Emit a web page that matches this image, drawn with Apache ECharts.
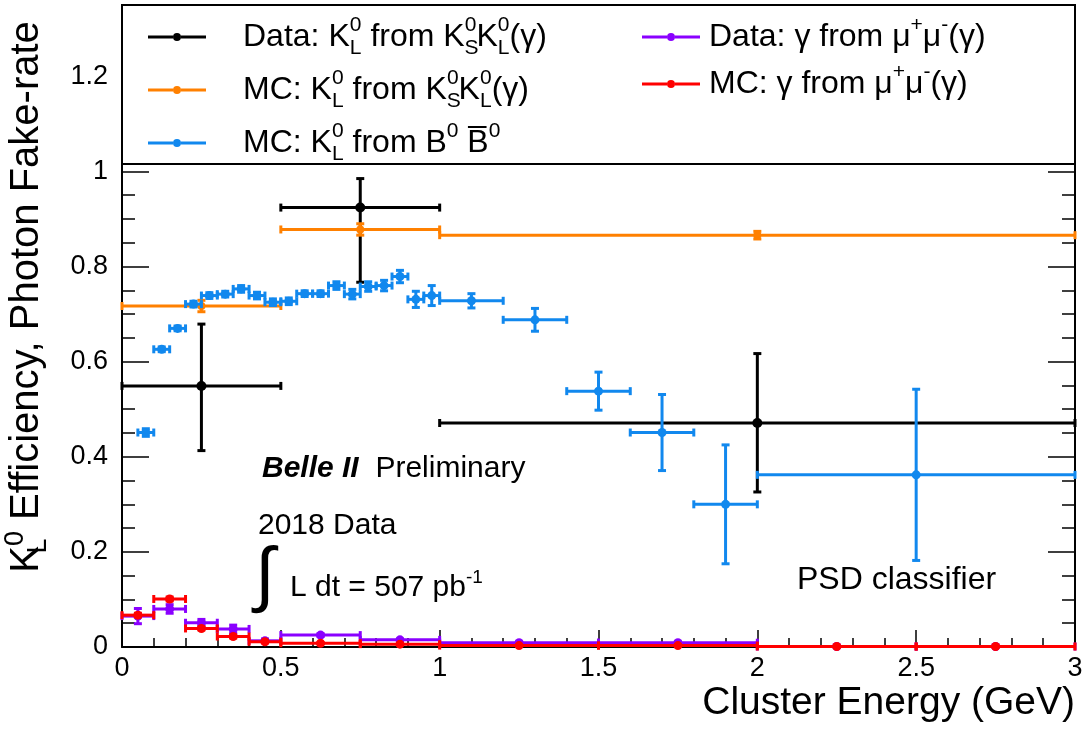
<!DOCTYPE html>
<html><head><meta charset="utf-8">
<script src="https://cdn.jsdelivr.net/npm/echarts@6/dist/echarts.min.js"></script>
<style>html,body{margin:0;padding:0;background:#fff}#c{width:1084px;height:734px}</style>
</head><body><div id="c"></div>
<script>
// ---------- data ----------
// Data: K_L^0 from K_S^0 K_L^0 (gamma)
const dKL_x    = [0.25, 0.75, 2.0];
const dKL_xerr = [0.25, 0.25, 1.0];
const dKL_y    = [0.549, 0.924, 0.471];
const dKL_elo  = [0.136, 0.157, 0.145];
const dKL_ehi  = [0.130, 0.061, 0.146];

// MC: K_L^0 from K_S^0 K_L^0 (gamma)
const mKL_x    = [0.25, 0.75, 2.0];
const mKL_xerr = [0.25, 0.25, 1.0];
const mKL_y    = [0.717, 0.878, 0.866];
const mKL_err  = [0.012, 0.012, 0.008];

// MC: K_L^0 from B0 B0bar
const mB_x    = [0.075, 0.125, 0.175, 0.225, 0.275, 0.325, 0.375, 0.425, 0.475, 0.525,
                 0.575, 0.625, 0.675, 0.725, 0.775, 0.825, 0.875, 0.925, 0.975,
                 1.1, 1.3, 1.5, 1.7, 1.9, 2.5];
const mB_xerr = [0.025, 0.025, 0.025, 0.025, 0.025, 0.025, 0.025, 0.025, 0.025, 0.025,
                 0.025, 0.025, 0.025, 0.025, 0.025, 0.025, 0.025, 0.025, 0.025,
                 0.1, 0.1, 0.1, 0.1, 0.1, 0.5];
const mB_y    = [0.451, 0.626, 0.670, 0.721, 0.739, 0.742, 0.753, 0.739, 0.725, 0.727,
                 0.743, 0.743, 0.760, 0.742, 0.758, 0.760, 0.779, 0.731, 0.739,
                 0.728, 0.688, 0.538, 0.451, 0.300, 0.362];
const mB_err  = [0.008, 0.005, 0.005, 0.006, 0.006, 0.006, 0.007, 0.007, 0.007, 0.007,
                 0.006, 0.006, 0.008, 0.010, 0.010, 0.011, 0.013, 0.017, 0.021,
                 0.015, 0.024, 0.040, 0.080, 0.125, 0.180];

// Data: gamma from mu+ mu- (gamma)
const dG_x    = [0.05, 0.15, 0.25, 0.35, 0.45, 0.625, 0.875, 1.25, 1.75, 2.25, 2.75];
const dG_xerr = [0.05, 0.05, 0.05, 0.05, 0.05, 0.125, 0.125, 0.25, 0.25, 0.25, 0.25];
const dG_y    = [0.065, 0.080, 0.051, 0.038, 0.013, 0.025, 0.015, 0.009, 0.009, 0.001, 0.001];
const dG_err  = [0.016, 0.009, 0.007, 0.008, 0.004, 0.003, 0.002, 0.002, 0.002, 0.001, 0.001];

// MC: gamma from mu+ mu- (gamma)
const mG_x    = [0.05, 0.15, 0.25, 0.35, 0.45, 0.625, 0.875, 1.25, 1.75, 2.25, 2.75];
const mG_xerr = [0.05, 0.05, 0.05, 0.05, 0.05, 0.125, 0.125, 0.25, 0.25, 0.25, 0.25];
const mG_y    = [0.067, 0.101, 0.039, 0.022, 0.011, 0.008, 0.006, 0.003, 0.003, 0.001, 0.001];
const mG_err  = [0.004, 0.004, 0.003, 0.003, 0.002, 0.001, 0.001, 0.001, 0.001, 0.0005, 0.0005];

// axis ticks
const xTicks = {min: 0, max: 3, interval: 0.5};
const yTicks = {min: 0, max: 1.35, interval: 0.2};

// ---------- chart ----------
const F = "'Liberation Sans', Arial, Helvetica, sans-serif";
const C = {black: '#000000', orange: '#ff8000', blue: '#1188ee', purple: '#8a00ff', red: '#ff0000'};
const N1 = 'Data: KL from KSKL(g)';
const N2 = 'MC: KL from KSKL(g)';
const N3 = 'MC: KL from B0B0bar';
const N4 = 'Data: g from mumu(g)';
const N5 = 'MC: g from mumu(g)';

function rows(x, xe, y, lo, hi) {
  return x.map((v, i) => [v, xe[i], y[i], lo[i], hi[i]]);
}
function makeRender(color, lw, r) {
  return function (params, api) {
    const x = api.value(0), xe = api.value(1), y = api.value(2), lo = api.value(3), hi = api.value(4);
    const c = api.coord([x, y]);
    const l = api.coord([x - xe, y]);
    const rt = api.coord([x + xe, y]);
    const t = api.coord([x, y + hi]);
    const b = api.coord([x, y - lo]);
    const cap = 4;
    const st = {stroke: color, lineWidth: lw, fill: null};
    const ln = (x1, y1, x2, y2) => ({type: 'line', shape: {x1, y1, x2, y2}, style: st});
    return {type: 'group', children: [
      ln(l[0], c[1], rt[0], c[1]),
      ln(c[0], t[1], c[0], b[1]),
      ln(l[0], c[1] - cap, l[0], c[1] + cap),
      ln(rt[0], c[1] - cap, rt[0], c[1] + cap),
      ln(c[0] - cap, t[1], c[0] + cap, t[1]),
      ln(c[0] - cap, b[1], c[0] + cap, b[1]),
      {type: 'circle', shape: {cx: c[0], cy: c[1], r}, style: {fill: color}}
    ]};
  };
}
function series(name, color, data, r) {
  return {type: 'custom', name, coordinateSystem: 'cartesian2d', xAxisIndex: 0, yAxisIndex: 0,
    renderItem: makeRender(color, 3, r), data, encode: {x: 0, y: 2},
    itemStyle: {color}, silent: true};
}

const icon = 'path://M0,2.5 H25 V5.5 H0 Z M33,2.5 H58 V5.5 H33 Z M25,4 A4,4 0 1,0 33,4 A4,4 0 1,0 25,4 Z';
const rich = {
  n: {fontSize: 32, fontFamily: F, color: '#000', lineHeight: 44},
  p: {fontSize: 21, fontFamily: F, color: '#000', lineHeight: 22, verticalAlign: 'top'},
  b: {fontSize: 21, fontFamily: F, color: '#000', lineHeight: 22, verticalAlign: 'bottom', width: 0.1}
};
const labels = {};
labels[N1] = '{n|Data: K}{b|L}{p|0}{n| from K}{b|S}{p|0}{n|K}{b|L}{p|0}{n|(γ)}';
labels[N2] = '{n|MC: K}{b|L}{p|0}{n| from K}{b|S}{p|0}{n|K}{b|L}{p|0}{n|(γ)}';
labels[N3] = '{n|MC: K}{b|L}{p|0}{n| from B}{p|0}{n| B\u0305}{p|0}';
labels[N4] = '{n|Data: γ from μ}{p|+}{n|μ}{p|-}{n|(γ)}';
labels[N5] = '{n|MC: γ from μ}{p|+}{n|μ}{p|-}{n|(γ)}';
function legend(names, left, pad) {
  return {data: names.map(n => ({name: n, icon})), orient: 'vertical', left, top: 10,
    itemWidth: 58, itemHeight: 8, itemGap: 9, selectedMode: false, z: 20,
    formatter: n => labels[n], textStyle: {rich, padding: [0, 0, 0, pad]}};
}

const axisBase = {
  axisLine: {show: true, lineStyle: {color: '#000', width: 2}},
  splitLine: {show: false},
  minorSplitLine: {show: false}
};

const option = {
  animation: false,
  backgroundColor: '#fff',
  grid: {left: 122, right: 9, top: 5, bottom: 87, containLabel: false, outerBoundsMode: 'none'},
  xAxis: [Object.assign({}, axisBase, {
    type: 'value', min: xTicks.min, max: xTicks.max, interval: xTicks.interval, position: 'bottom',
    axisTick: {inside: true, length: 17, lineStyle: {color: '#000', width: 1.5}},
    minorTick: {show: true, splitNumber: 5, length: 9, lineStyle: {color: '#000', width: 1.5}},
    axisLabel: {fontSize: 27, fontFamily: F, color: '#000', margin: 8},
    name: 'Cluster Energy (GeV)', nameLocation: 'end', nameGap: 0,
    nameTextStyle: {fontSize: 39, fontFamily: F, color: '#000', align: 'right', verticalAlign: 'top', padding: [37, 0, 0, 0]}
  })],
  yAxis: [Object.assign({}, axisBase, {
    type: 'value', min: yTicks.min, max: yTicks.max, interval: yTicks.interval, position: 'left',
    axisTick: {inside: true, length: 27, lineStyle: {color: '#000', width: 1.5}},
    minorTick: {show: true, splitNumber: 4, length: 13, lineStyle: {color: '#000', width: 1.5}},
    axisLabel: {fontSize: 27, fontFamily: F, color: '#000', margin: 14, showMaxLabel: false},
    name: '{n|K}{b|L}{p|0}{n| Efficiency, Photon Fake-rate}',
    nameLocation: 'middle', nameGap: 70, nameRotate: 90,
    nameTextStyle: {padding: [0, 0, 0, 58], rich: {
      n: {fontSize: 40, fontFamily: F, color: '#000', lineHeight: 50},
      p: {fontSize: 27, fontFamily: F, color: '#000', lineHeight: 27, verticalAlign: 'top'},
      b: {fontSize: 27, fontFamily: F, color: '#000', lineHeight: 27, verticalAlign: 'bottom', width: 0.1}
    }}
  }), Object.assign({}, axisBase, {
    type: 'value', min: yTicks.min, max: yTicks.max, interval: yTicks.interval, position: 'right',
    axisTick: {inside: true, length: 27, lineStyle: {color: '#000', width: 1.5}},
    minorTick: {show: true, splitNumber: 4, length: 13, lineStyle: {color: '#000', width: 1.5}},
    axisLabel: {show: false}
  })],
  legend: [legend([N1, N2, N3], 143, 32), legend([N4, N5], 637, 4)],
  graphic: {elements: [
    {type: 'rect', z: 10, shape: {x: 122, y: 5, width: 953, height: 159},
     style: {fill: '#fff', stroke: '#000', lineWidth: 2}},
    {type: 'text', z: 10, x: 262, y: 469, style: {
      text: '{bi|Belle II}{r|  Preliminary}', verticalAlign: 'middle',
      rich: {bi: {fontSize: 30, fontFamily: F, fontWeight: 'bold', fontStyle: 'italic', fill: '#000'},
             r: {fontSize: 30, fontFamily: F, fill: '#000'}}}},
    {type: 'text', z: 10, x: 258, y: 526, style: {text: '2018 Data', fontSize: 30, fontFamily: F, fill: '#000', verticalAlign: 'middle'}},
    {type: 'text', z: 10, x: 255, y: 578, style: {text: '∫', fontSize: 72, fontFamily: F, fill: '#000', verticalAlign: 'middle'}},
    {type: 'text', z: 10, x: 290, y: 588, style: {
      text: '{n|L dt = 507 pb}{p|-1}', verticalAlign: 'middle',
      rich: {n: {fontSize: 30, fontFamily: F, fill: '#000', lineHeight: 40},
             p: {fontSize: 19, fontFamily: F, fill: '#000', lineHeight: 20, verticalAlign: 'top'}}}},
    {type: 'text', z: 10, x: 797, y: 580, style: {text: 'PSD classifier', fontSize: 32, fontFamily: F, fill: '#000', verticalAlign: 'middle'}}
  ]},
  series: [
    series(N1, C.black, rows(dKL_x, dKL_xerr, dKL_y, dKL_elo, dKL_ehi), 5),
    series(N2, C.orange, rows(mKL_x, mKL_xerr, mKL_y, mKL_err, mKL_err), 4),
    series(N3, C.blue, rows(mB_x, mB_xerr, mB_y, mB_err, mB_err), 4.5),
    series(N4, C.purple, rows(dG_x, dG_xerr, dG_y, dG_err, dG_err), 4.5),
    series(N5, C.red, rows(mG_x, mG_xerr, mG_y, mG_err, mG_err), 4.5)
  ]
};
const chart = echarts.init(document.getElementById('c'), null, {renderer: 'canvas'});
chart.setOption(option);
</script></body></html>
